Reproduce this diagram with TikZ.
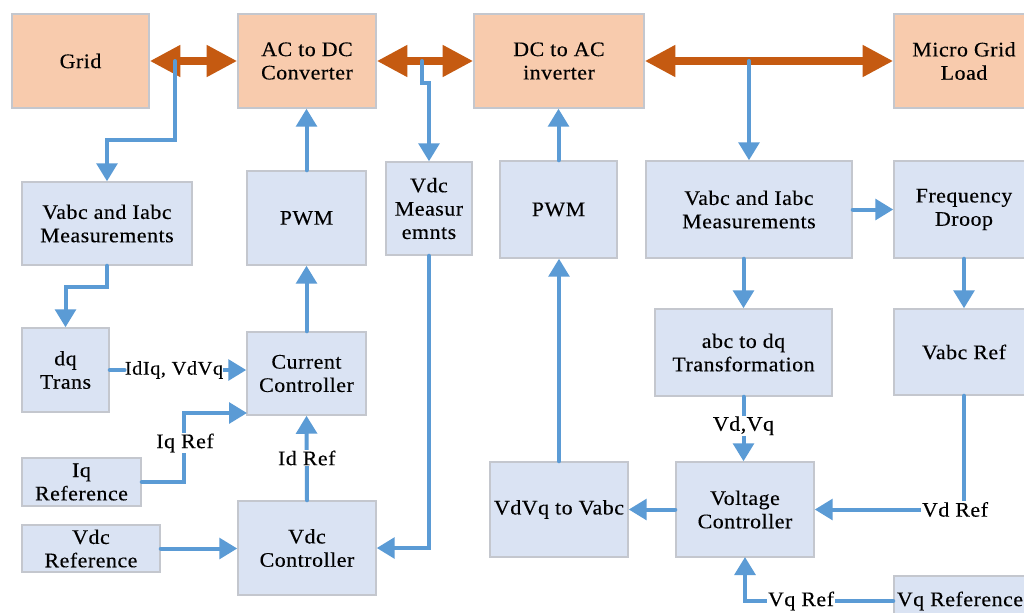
\documentclass[tikz,border=0pt]{standalone}
\usepackage{fontspec}
\setmainfont{Liberation Serif}[FakeStretch=1.06,LetterSpace=2.5,FakeBold=0.25]
\usetikzlibrary{arrows.meta}
\definecolor{orfill}{HTML}{F8CBAD}
\definecolor{blfill}{HTML}{DAE3F3}
\definecolor{bord}{HTML}{C4C7CE}
\definecolor{orarr}{HTML}{C55A11}
\definecolor{blarr}{HTML}{5B9BD5}
\newcommand\mybox[7]{\node[#1,minimum width={(#5-#3)*0.75pt},minimum height={(#6-#4)*0.75pt}] (#2) at ({(#3+#5)/2},{(#4+#6)/2}) {#7};}
\begin{document}
\begin{tikzpicture}[x=0.75pt,y=-0.75pt,
  base/.style={draw=bord,line width=1.1pt,align=center,inner sep=0pt,font=\fontsize{15.5}{17.5}\selectfont},
  obox/.style={base,fill=orfill},
  bbox/.style={base,fill=blfill},
  pow/.style={draw=orarr,line width=6.6pt,{Triangle[length=23pt,width=22.5pt]}-{Triangle[length=23pt,width=22.5pt]}},
  sigline/.style={draw=blarr,line width=3pt,line cap=round},
  sig/.style={sigline,-{Triangle[length=13.5pt,width=15.5pt]}},
  lab/.style={fill=white,inner sep=0.5pt,font=\fontsize{15.5}{17.5}\selectfont}]
\clip (0,0) rectangle (1024,612);
\fill[white] (0,0) rectangle (1024,612);
% top row
\mybox{obox}{grid}{12}{14}{149}{108}{Grid}
\mybox{obox}{acdc}{238}{14}{376}{108}{AC to DC\\Converter}
\mybox{obox}{dcac}{474}{14}{644}{108}{DC to AC\\inverter}
\mybox{obox}{mgl}{894}{14}{1034}{108}{Micro Grid\\Load}
% left
\mybox{bbox}{vmL}{22}{182}{192}{265}{Vabc and Iabc\\Measurements}
\mybox{bbox}{pwmL}{247}{171}{366}{265}{PWM}
\mybox{bbox}{vdcm}{386}{162}{472}{255}{Vdc\\Measur\\emnts}
\mybox{bbox}{dq}{22}{328}{109}{412}{dq\\Trans}
\mybox{bbox}{cc}{247}{332}{366}{415}{Current\\Controller}
\mybox{bbox}{iqr}{22}{458}{141}{506}{Iq\\Reference}
\mybox{bbox}{vdcr}{22}{525}{160}{572}{Vdc\\Reference}
\mybox{bbox}{vdcc}{238}{501}{376}{595}{Vdc\\Controller}
% right
\mybox{bbox}{pwmR}{500}{161}{617}{258}{PWM}
\mybox{bbox}{vmR}{646}{161}{852}{258}{Vabc and Iabc\\Measurements}
\mybox{bbox}{fd}{894}{161}{1034}{258}{Frequency\\Droop}
\mybox{bbox}{abcdq}{655}{309}{832}{396}{abc to dq\\Transformation}
\mybox{bbox}{vref}{894}{309}{1034}{395}{Vabc Ref}
\mybox{bbox}{vdvq}{490}{462}{628}{557}{VdVq to Vabc}
\mybox{bbox}{vc}{676}{462}{814}{557}{Voltage\\Controller}
\mybox{bbox}{vqr}{894}{576}{1040}{626}{Vq Reference\hspace*{10.5pt}}
% power arrows
\draw[pow] (grid.east) -- (acdc.west);
\draw[pow] (acdc.east) -- (dcac.west);
\draw[pow] (dcac.east) -- (mgl.west);
\coordinate (t1) at (175,61);
\coordinate (t2) at (422,61);
\coordinate (t3) at (749,61);
% left signals
\draw[sig] (t1) -- (175,140) -| (vmL.north);
\draw[sig] (vmL.south) -- (107,287) -| (dq.north);
\node[lab,inner sep=0pt,font=\fontsize{14.5}{17}\selectfont] (idlab) at (174,370) {IdIq, VdVq};
\draw[sigline] (dq.east) -- (idlab.west);
\draw[sig,line cap=butt] (idlab.east) -- (idlab.east -| cc.west);
\draw[sig] (cc.north) -- (pwmL.south);
\draw[sig] (pwmL.north) -- (pwmL.north |- acdc.south);
\draw[sig] (t2) -- (422,83) -- (429,83) -- (vdcm.north);
\draw[sig] (vdcm.south) -- (vdcm.south |- vdcc.east) -- (vdcc.east);
\draw[sig] (vdcc.north) -- (cc.south) node[lab,pos=0.5] {Id Ref};
\draw[sig] (iqr.east) -- (184,482) -- (184,413) -- (247,413);
\node[lab] (iqlab) at (185,443) {Iq Ref};
\draw[sig] (vdcr.east) -- (vdcr.east -| vdcc.west);
% right signals
\draw[sig] (t3) -- (vmR.north);
\draw[sig] (pwmR.north) -- (pwmR.north |- dcac.south);
\draw[sig] (vdvq.north) -- (vdvq.north |- pwmR.south);
\draw[sig] (vmR.east) -- (fd.west);
\draw[sig] (abcdq.north |- vmR.south) -- (abcdq.north);
\draw[sig] (abcdq.south) -- (abcdq.south |- vc.north) node[lab,pos=0.45] {Vd,Vq};
\draw[sig] (fd.south) -- (vref.north);
\draw[sig] (vref.south) -- (vref.south |- vc.east) -- (vc.east);
\node[lab] (vdlab) at (955,509.5) {Vd Ref};
\draw[sig] (vc.west) -- (vdvq.east);
\draw[sig] (vqr.west) -- (745,601) -- (745,557);
\node[lab] (vqlab) at (801,601) {Vq Ref};
\end{tikzpicture}
\end{document}
